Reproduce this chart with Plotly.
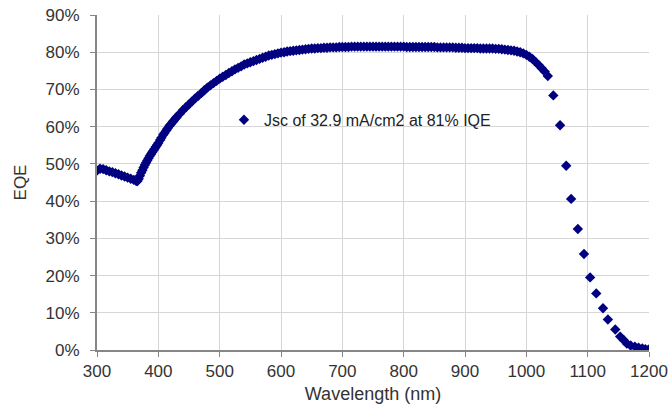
import plotly.graph_objects as go

wavelength_nm = [
    300, 305, 310, 315, 320, 325, 330, 335, 340, 345,
    350, 355, 360,
    364, 366, 368, 370, 372, 374, 376, 378, 380, 382,
    384, 386, 388, 390, 392, 394, 396, 398, 400, 403,
    405, 408, 410, 413, 415, 418, 420, 423, 425, 428,
    430,
    435, 440, 445, 450, 455, 460, 465, 470, 475, 480,
    485, 490, 495, 500, 505, 510, 515, 520, 525, 530,
    535, 540, 545, 550, 555, 560, 565, 570, 575, 580,
    585, 590, 595, 600, 605, 610, 615, 620, 625, 630,
    635, 640, 645, 650, 655, 660, 665, 670, 675, 680,
    685, 690, 695, 700, 705, 710, 715, 720, 725, 730,
    735, 740, 745, 750, 755, 760, 765, 770, 775, 780,
    785, 790, 795, 800, 805, 810, 815, 820, 825, 830,
    835, 840, 845, 850, 855, 860, 865, 870, 875, 880,
    885, 890, 895, 900, 905, 910, 915, 920, 925, 930,
    935, 940, 945, 950, 955, 960, 965, 970, 975, 980,
    985, 990, 995, 1000, 1005, 1010, 1015, 1020, 1025, 1030,
    1035, 1044, 1055, 1065, 1073, 1084, 1094, 1104, 1114, 1125,
    1133, 1145, 1153, 1159, 1164, 1170, 1177, 1183, 1189, 1194,
    1199,
]

eqe_pct = [
    48.2, 48.7, 48.6, 48.3, 48.0, 47.8, 47.5, 47.2, 46.9, 46.6,
    46.3, 46.0, 45.7,
    45.4, 45.4, 46.0, 46.8, 47.6, 48.3, 49.0, 49.7, 50.3, 50.9,
    51.5, 52.1, 52.6, 53.1, 53.6, 54.1, 54.6, 55.1, 55.6, 56.4,
    57.0, 57.8, 58.3, 59.0, 59.5, 60.2, 60.6, 61.2, 61.6, 62.2,
    62.6,
    63.5, 64.4, 65.2, 66.0, 66.8, 67.6, 68.3, 69.0, 69.8, 70.5,
    71.1, 71.7, 72.3, 72.9, 73.4, 73.9, 74.4, 74.9, 75.4, 75.8,
    76.2, 76.7, 77.0, 77.3, 77.6, 77.9, 78.2, 78.5, 78.8, 79.1,
    79.3, 79.5, 79.7, 79.9, 80.0, 80.2, 80.3, 80.4, 80.5, 80.6,
    80.7, 80.8, 80.9, 81.0, 81.0, 81.1, 81.1, 81.2, 81.2, 81.3,
    81.3, 81.3, 81.4, 81.4, 81.4, 81.4, 81.5, 81.5, 81.5, 81.5,
    81.5, 81.5, 81.5, 81.5, 81.5, 81.5, 81.5, 81.5, 81.5, 81.5,
    81.5, 81.5, 81.5, 81.5, 81.4, 81.4, 81.4, 81.4, 81.4, 81.4,
    81.4, 81.4, 81.4, 81.4, 81.3, 81.3, 81.3, 81.3, 81.3, 81.3,
    81.2, 81.2, 81.2, 81.1, 81.1, 81.1, 81.1, 81.1, 81.0, 81.0,
    81.0, 81.0, 81.0, 80.9, 80.9, 80.8, 80.7, 80.6, 80.5, 80.4,
    80.2, 80.0, 79.7, 79.3, 78.8, 78.2, 77.4, 76.6, 75.7, 74.8,
    73.6, 68.4, 60.4, 49.5, 40.6, 32.5, 25.8, 19.5, 15.2, 11.2,
    8.2, 5.5, 3.6, 2.6, 1.7, 1.2, 0.9, 0.6, 0.4, 0.2,
    0.1,
]

series_name = "Jsc of 32.9 mA/cm2 at 81% IQE"
x_ticks = [300, 400, 500, 600, 700, 800, 900, 1000, 1100, 1200]
y_ticks = [0, 10, 20, 30, 40, 50, 60, 70, 80, 90]
y_tick_text = [f"{v}%" for v in y_ticks]

navy = "#000080"
axis_col = "#868686"
grid_col = "#d6d6d6"
font_fam = "Liberation Sans, Arial, sans-serif"
text_col = "#333333"

fig = go.Figure()
fig.add_trace(go.Scatter(
    x=wavelength_nm, y=eqe_pct, mode="markers", name=series_name,
    marker=dict(symbol="diamond", size=8, color=navy, line=dict(width=0)),
    showlegend=True,
))

fig.update_layout(
    width=669, height=408,
    margin=dict(l=97, r=20, t=15, b=58),
    paper_bgcolor="white", plot_bgcolor="white",
    font=dict(family=font_fam, size=17, color=text_col),
    showlegend=True,
    legend=dict(x=0.230, y=0.687, xanchor="left", yanchor="middle",
                bgcolor="rgba(0,0,0,0)", font=dict(size=16, color="#222222"),
                itemwidth=30),
    xaxis=dict(
        range=[300, 1200], tickvals=x_ticks, showgrid=True, gridcolor=grid_col,
        gridwidth=1, showline=True, linecolor=axis_col, linewidth=2,
        ticks="outside", ticklen=5, tickcolor=axis_col, zeroline=False,
        automargin=False, tickfont=dict(size=17),
        title=dict(text="Wavelength (nm)", standoff=7, font=dict(size=18)),
    ),
    yaxis=dict(
        range=[0, 90], tickvals=y_ticks, ticktext=y_tick_text, showgrid=True,
        gridcolor=grid_col, gridwidth=1, showline=True, linecolor=axis_col,
        linewidth=2, ticks="outside", ticklen=5, tickcolor=axis_col,
        zeroline=False, ticklabelstandoff=7, automargin=False,
        tickfont=dict(size=17),
        title=dict(text="EQE", standoff=15, font=dict(size=17)),
    ),
    shapes=[dict(type="rect", xref="paper", yref="paper",
                 x0=0.2355, x1=0.7536, y0=0.618, y1=0.782,
                 fillcolor="white", line=dict(width=0), layer="between")],
)

fig.write_html("out.html")
